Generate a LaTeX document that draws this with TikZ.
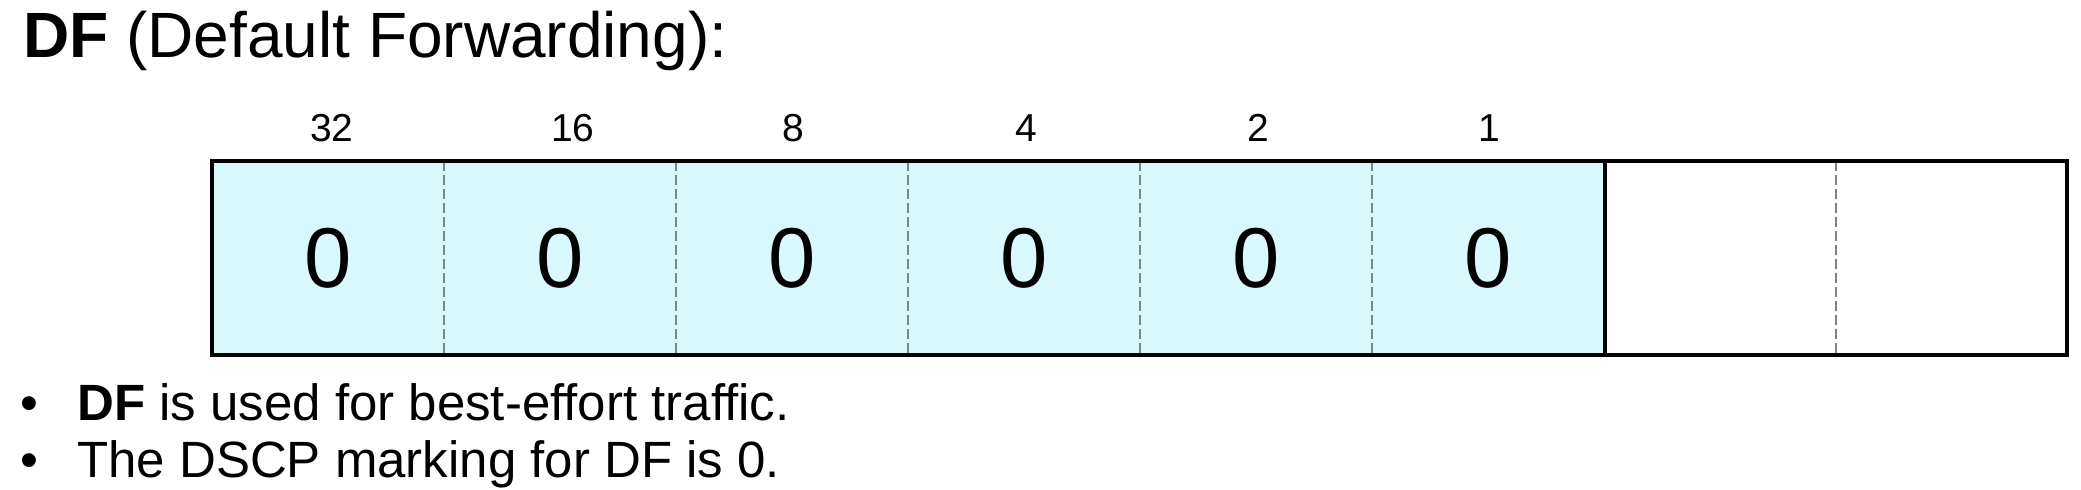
\documentclass[tikz,border=0pt]{standalone}
\usepackage{fontspec}
\setmainfont{Liberation Sans}
\definecolor{cellcyan}{RGB}{216,249,252}
\definecolor{dashgray}{RGB}{120,135,138}
\begin{document}
\begin{tikzpicture}[x=1pt,y=-1pt,
  cellfill/.style={fill=cellcyan},
  divline/.style={draw=dashgray, line width=1.4pt, dash pattern=on 10pt off 4pt},
  outline/.style={draw=black, line width=3.5pt},
  bitlabel/.style={anchor=base, inner sep=0pt, font=\fontsize{39}{46}\selectfont},
  bitval/.style={anchor=center, font=\fontsize{85}{100}\selectfont},
  txt/.style={anchor=base west, inner sep=0pt}]
\useasboundingbox (0,0) rectangle (2081,490);
\fill[white] (0,0) rectangle (2081,490);
% title
\node[txt, font=\fontsize{64}{76}\selectfont] (title) at (23,57) {\textbf{DF} (Default Forwarding):};
% cells
\fill[cellfill] (212,161) rectangle (1605,355);
\foreach \i/\lab/\xx in {1/32/332,2/16/573,3/8/793,4/4/1026,5/2/1258,6/1/1489}{
  \node[bitlabel] (lab\i) at (\xx,141) {\lab};
  \node[bitval] (val\i) at ({212+232*(\i-0.5)},258) {0};
}
\foreach \i in {1,2,3,4,5,7}{
  \draw[divline] ({212+232*\i},161) -- ({212+232*\i},355);
}
\draw[outline] (1605,161) -- (1605,355);
\draw[outline] (212,161) rectangle (2067,355);
% bullets
\node[txt, font=\fontsize{51}{60}\selectfont] (b1) at (20,420) {•};
\node[txt, font=\fontsize{51}{60}\selectfont] (t1) at (77,420) {\textbf{DF} is used for best-effort traffic.};
\node[txt, font=\fontsize{51}{60}\selectfont] (b2) at (20,477) {•};
\node[txt, font=\fontsize{51}{60}\selectfont] (t2) at (77,477) {The DSCP marking for DF is 0.};
\end{tikzpicture}
\end{document}
